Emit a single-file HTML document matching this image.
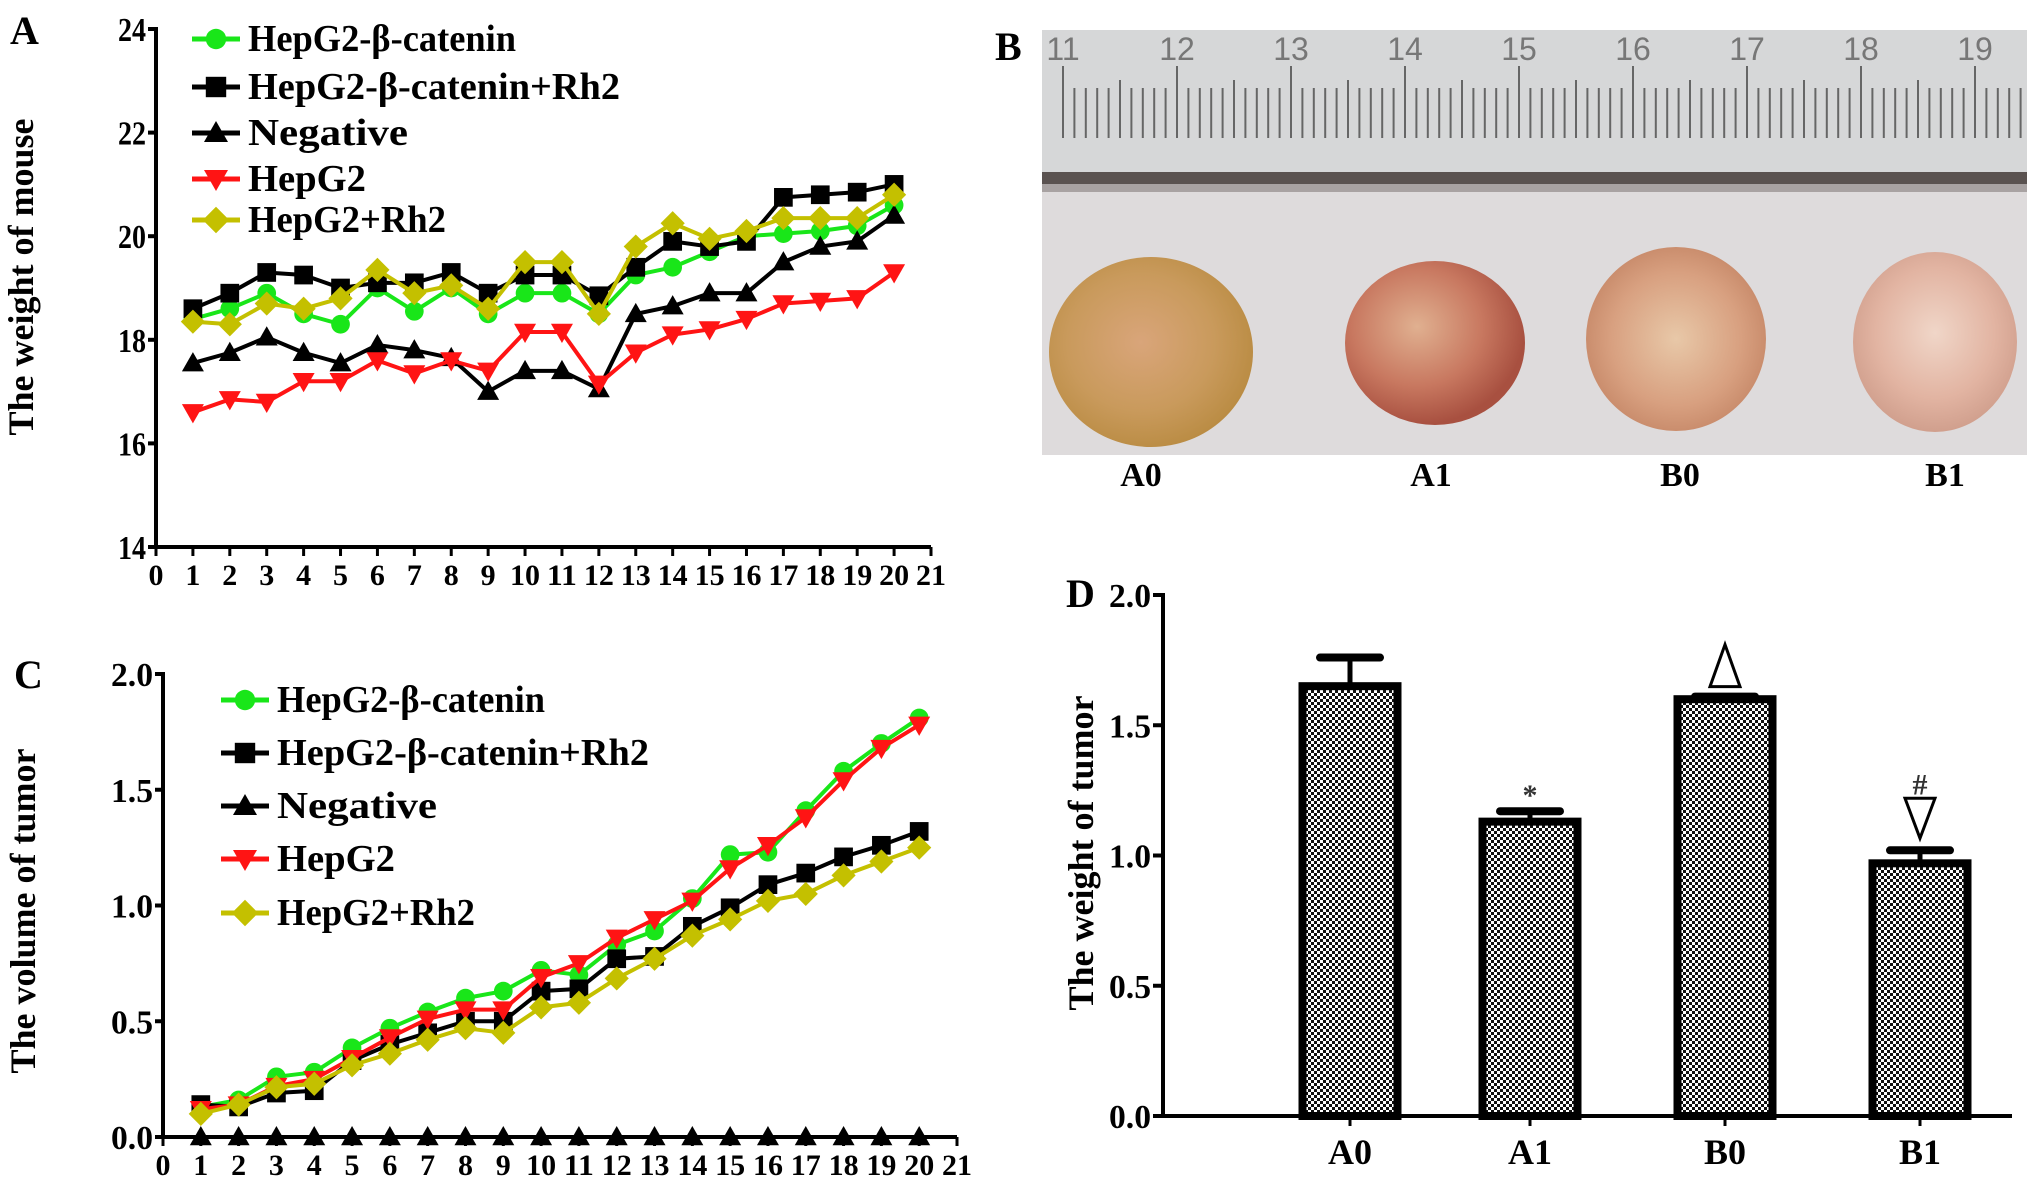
<!DOCTYPE html>
<html><head><meta charset="utf-8"><style>
html,body{margin:0;padding:0;background:#fff;}
svg text{font-family:"Liberation Serif",serif;font-weight:bold;}
</style></head><body>
<svg id="fig" width="2031" height="1187" viewBox="0 0 2031 1187" xmlns="http://www.w3.org/2000/svg">
<defs>
<pattern id="dots" width="6" height="6" patternUnits="userSpaceOnUse">
<rect width="6" height="6" fill="#111"/><rect x="0" y="0" width="3" height="3" fill="#fff"/><rect x="3" y="3" width="3" height="3" fill="#fff"/>
</pattern>
<radialGradient id="gA0" cx="45%" cy="45%" r="60%"><stop offset="0" stop-color="#d9a57a"/><stop offset="0.6" stop-color="#c99a5c"/><stop offset="1" stop-color="#b88a40"/></radialGradient>
<radialGradient id="gA1" cx="40%" cy="40%" r="60%"><stop offset="0" stop-color="#e0b090"/><stop offset="0.6" stop-color="#c87860"/><stop offset="1" stop-color="#a85040"/></radialGradient>
<radialGradient id="gB0" cx="50%" cy="50%" r="60%"><stop offset="0" stop-color="#e8c8a8"/><stop offset="0.6" stop-color="#d8a080"/><stop offset="1" stop-color="#c08060"/></radialGradient>
<radialGradient id="gB1" cx="50%" cy="45%" r="60%"><stop offset="0" stop-color="#f0d6c8"/><stop offset="0.6" stop-color="#e2b4a2"/><stop offset="1" stop-color="#cc9a88"/></radialGradient>
</defs>

<text x="10" y="44" font-size="40">A</text>
<text x="995" y="60" font-size="40">B</text>
<text x="14" y="688" font-size="40">C</text>
<text x="1066" y="607" font-size="40">D</text>

<g>
<rect x="1042" y="30" width="985" height="425" fill="#dedbdc"/>
<rect x="1042" y="30" width="985" height="145" fill="#d6d7d8"/>
<rect x="1042" y="172" width="985" height="12" fill="#5a5250"/>
<rect x="1042" y="184" width="985" height="8" fill="#a8a2a2"/>
<g id="rulerTicks"></g>
<ellipse cx="1151" cy="352" rx="102" ry="95" fill="url(#gA0)"/>
<ellipse cx="1435" cy="343" rx="90" ry="82" fill="url(#gA1)"/>
<ellipse cx="1676" cy="339" rx="90" ry="92" fill="url(#gB0)"/>
<ellipse cx="1935" cy="342" rx="82" ry="90" fill="url(#gB1)"/>
</g>
<g font-size="34" text-anchor="middle">
<text x="1141" y="486">A0</text>
<text x="1431" y="486">A1</text>
<text x="1680" y="486">B0</text>
<text x="1945" y="486">B1</text>
</g>

<g id="chartA"></g>
<g id="chartC"></g>
<g id="chartD"></g>
</svg>
<script>
const daysA = [1,2,3,4,5,6,7,8,9,10,11,12,13,14,15,16,17,18,19,20];
const aCatenin = [18.4,18.6,18.9,18.5,18.3,19.0,18.55,19.0,18.5,18.9,18.9,18.5,19.25,19.4,19.7,20.0,20.05,20.1,20.2,20.6];
const aCateninRh2 = [18.6,18.9,19.3,19.25,19.0,19.1,19.1,19.3,18.9,19.25,19.25,18.85,19.4,19.9,19.8,19.9,20.75,20.8,20.85,21.0];
const aNegative = [17.55,17.75,18.05,17.75,17.55,17.9,17.8,17.65,17.0,17.4,17.4,17.05,18.5,18.65,18.9,18.9,19.5,19.8,19.9,20.4];
const aHepG2 = [16.6,16.85,16.8,17.2,17.2,17.6,17.35,17.6,17.4,18.15,18.15,17.15,17.75,18.1,18.2,18.4,18.7,18.75,18.8,19.3];
const aHepG2Rh2 = [18.35,18.3,18.7,18.6,18.8,19.35,18.9,19.05,18.6,19.5,19.5,18.5,19.8,20.25,19.95,20.1,20.35,20.35,20.35,20.8];
const aYTicks = ["14","16","18","20","22","24"];
const xTickLabels = ["0","1","2","3","4","5","6","7","8","9","10","11","12","13","14","15","16","17","18","19","20","21"];
const cCatenin = [0.13,0.16,0.26,0.28,0.385,0.47,0.54,0.60,0.63,0.72,0.70,0.83,0.89,1.03,1.22,1.23,1.41,1.58,1.70,1.81];
const cCateninRh2 = [0.14,0.13,0.19,0.20,0.33,0.40,0.45,0.50,0.50,0.63,0.64,0.77,0.78,0.91,0.99,1.09,1.14,1.21,1.26,1.32];
const cNegative = [0,0,0,0,0,0,0,0,0,0,0,0,0,0,0,0,0,0,0,0];
const cHepG2 = [0.12,0.14,0.22,0.25,0.34,0.43,0.51,0.55,0.55,0.69,0.75,0.86,0.94,1.02,1.16,1.26,1.38,1.54,1.68,1.78];
const cHepG2Rh2 = [0.10,0.14,0.215,0.23,0.31,0.36,0.42,0.47,0.45,0.56,0.58,0.685,0.77,0.87,0.94,1.02,1.05,1.13,1.19,1.25];
const cYTicks = ["0.0","0.5","1.0","1.5","2.0"];
const dGroups = ["A0","A1","B0","B1"];
const dMeans = [1.65,1.13,1.60,0.97];
const dErrors = [0.11,0.04,0.01,0.05];
const dYTicks = ["0.0","0.5","1.0","1.5","2.0"];
const legendNames = ["HepG2-β-catenin","HepG2-β-catenin+Rh2","Negative","HepG2","HepG2+Rh2"];
const legendWidths = [268,372,160,118,198];

const NS="http://www.w3.org/2000/svg";
function mk(tag, attrs, parent){const e=document.createElementNS(NS,tag);for(const k in attrs)e.setAttribute(k,attrs[k]);parent.appendChild(e);return e;}

(function(){
  const g=document.getElementById('rulerTicks');
  for(let i=0;i<=85;i++){
    const x=1063+i*11.4; if(x>2025)break;
    const big=i%10===0, mid=i%5===0;
    const t=mk('line',{x1:x,x2:x,y1:big?66:(mid?80:88),y2:138,stroke:'#666',"stroke-width":2},g);
    
    
    if(big){const n=mk('text',{x:x,y:60,"font-size":32,"text-anchor":"middle",fill:"#777",style:"font-family:'Liberation Sans',sans-serif;font-weight:normal"},g);n.textContent=String(11+i/10);
      
      }
  }
})();

const styles=[
 {color:'#19e619',marker:'circle',fill:'#19e619'},
 {color:'#000',marker:'square',fill:'#000'},
 {color:'#000',marker:'up',fill:'#000'},
 {color:'#ff1414',marker:'down',fill:'#ff1414'},
 {color:'#c4c000',marker:'diamond',fill:'#c4c000'}
];
function marker(g,type,x,y,fill,s){
  let e;
  if(type==='circle') e=mk('circle',{cx:x,cy:y,r:s*0.85,fill:fill},g);
  else if(type==='square') e=mk('rect',{x:x-s*0.85,y:y-s*0.85,width:s*1.7,height:s*1.7,fill:fill},g);
  else if(type==='up') e=mk('polygon',{points:`${x},${y-s} ${x-s},${y+s*0.75} ${x+s},${y+s*0.75}`,fill:fill},g);
  else if(type==='down') e=mk('polygon',{points:`${x},${y+s} ${x-s},${y-s*0.75} ${x+s},${y-s*0.75}`,fill:fill},g);
  else e=mk('polygon',{points:`${x},${y-s*1.1} ${x+s*1.1},${y} ${x},${y+s*1.1} ${x-s*1.1},${y}`,fill:fill},g);
  return e;
}

function lineChart(g, cfg){
  const xS=v=>cfg.x0+(cfg.x1-cfg.x0)*v/21;
  const yS=v=>cfg.yb+(cfg.yt-cfg.yb)*(v-cfg.ymin)/(cfg.ymax-cfg.ymin);
  const ya=mk('line',{x1:cfg.x0,x2:cfg.x0,y1:cfg.yt-2,y2:cfg.yb+2,stroke:'#000',"stroke-width":4},g);
   
  const xa=mk('line',{x1:cfg.x0-2,x2:cfg.x1,y1:cfg.yb,y2:cfg.yb,stroke:'#000',"stroke-width":4},g);
   
  cfg.yTicks.forEach(lbl=>{
    const y=yS(parseFloat(lbl));
    mk('line',{x1:cfg.x0-8,x2:cfg.x0,y1:y,y2:y,stroke:'#000',"stroke-width":4},g);
    const t=mk('text',{x:cfg.x0-10,y:y+12,"font-size":34,"text-anchor":"end",textLength:lbl.length*14,lengthAdjust:"spacingAndGlyphs"},g); t.textContent=lbl;
     
  });
  xTickLabels.forEach((lbl,i)=>{
    const x=xS(i);
    mk('line',{x1:x,x2:x,y1:cfg.yb,y2:cfg.yb+9,stroke:'#000',"stroke-width":3},g);
    const t=mk('text',{x:x,y:cfg.yb+38,"font-size":30,"text-anchor":"middle"},g); t.textContent=lbl;
    if(lbl.length>1){t.setAttribute('textLength',30);t.setAttribute('lengthAdjust','spacingAndGlyphs');}
     
  });
  const yt=mk('text',{x:0,y:0,"font-size":36,"text-anchor":"middle",transform:`translate(${cfg.titleX},${cfg.titleY}) rotate(-90)`},g);
  yt.textContent=cfg.title;  
  cfg.series.forEach((vals,si)=>{
    const st=styles[si];
    const sg=mk('g',{},g);
    
    
    const pts=vals.map((v,i)=>xS(daysA[i])+','+yS(v)).join(' ');
    mk('polyline',{points:pts,fill:'none',stroke:st.color,"stroke-width":4,"stroke-linejoin":"round"},sg);
    vals.forEach((v,i)=>{const m=marker(sg,st.marker,xS(daysA[i]),yS(v),st.fill,11);
       });
  });
  legendNames.forEach((nm,i)=>{
    const st=styles[i]; const y=cfg.legY[i];
    const lg=mk('g',{},g);
     
    mk('line',{x1:cfg.legX,x2:cfg.legX+48,y1:y,y2:y,stroke:st.color,"stroke-width":5},lg);
    marker(lg,st.marker,cfg.legX+24,y,st.fill,12);
    const t=mk('text',{x:cfg.legX+56,y:y+12,"font-size":38,textLength:legendWidths[i],lengthAdjust:"spacingAndGlyphs"},lg);
    t.textContent=nm;
  });
}

lineChart(document.getElementById('chartA'),{x0:156,x1:931,yt:29,yb:547,ymin:14,ymax:24,yTicks:aYTicks,
  series:[aCatenin,aCateninRh2,aNegative,aHepG2,aHepG2Rh2],title:'The weight of mouse',titleX:33,titleY:277,
  legX:192,legY:[39,87,133,179,220]});
lineChart(document.getElementById('chartC'),{x0:163,x1:957,yt:674,yb:1137,ymin:0,ymax:2,yTicks:cYTicks,
  series:[cCatenin,cCateninRh2,cNegative,cHepG2,cHepG2Rh2],title:'The volume of tumor',titleX:35,titleY:911,
  legX:221,legY:[700,753,806,859,913]});

(function(){
  const g=document.getElementById('chartD');
  const x0=1163,yb=1116,yt=595,xEnd=2012;
  const yS=v=>yb+(yt-yb)*v/2;
  const xC=i=>1350+i*190-(i===1?10:0)-(i===2?5:0);
  const bw=95;
  const ya=mk('line',{x1:x0,x2:x0,y1:yt-2,y2:yb+2,stroke:'#000',"stroke-width":4},g);
   
  const xa=mk('line',{x1:x0-2,x2:xEnd,y1:yb,y2:yb,stroke:'#000',"stroke-width":4},g);
   
  dYTicks.forEach(l=>{const y=yS(parseFloat(l));
    mk('line',{x1:x0-10,x2:x0,y1:y,y2:y,stroke:'#000',"stroke-width":4},g);
    const t=mk('text',{x:x0-12,y:y+12,"font-size":34,"text-anchor":"end",textLength:42,lengthAdjust:"spacingAndGlyphs"},g);t.textContent=l;
     });
  dGroups.forEach((nm,i)=>{
    const x=xC(i), top=yS(dMeans[i]), et=yS(dMeans[i]+dErrors[i]);
    mk('line',{x1:x,x2:x,y1:top,y2:et,stroke:'#000',"stroke-width":5},g);
    mk('line',{x1:x-30,x2:x+30,y1:et,y2:et,stroke:'#000',"stroke-width":8,"stroke-linecap":"round"},g);
    const b=mk('rect',{x:x-bw/2,y:top,width:bw,height:yb-top,fill:'url(#dots)',stroke:'#000',"stroke-width":8},g);
     
    mk('line',{x1:x,x2:x,y1:yb,y2:yb+10,stroke:'#000',"stroke-width":3},g);
    const t=mk('text',{x:x,y:1164,"font-size":36,"text-anchor":"middle"},g);t.textContent=nm;
     
  });
  const a1=mk('text',{x:xC(1),y:yS(dMeans[1]+dErrors[1])-6,"font-size":30,"text-anchor":"middle",fill:"#333"},g);a1.textContent='*';
   
  const tB0=yS(dMeans[2]+dErrors[2])-10;
  const tr=mk('polygon',{points:`${xC(2)},${tB0-42} ${xC(2)-15},${tB0} ${xC(2)+15},${tB0}`,fill:'#fff',stroke:'#000',"stroke-width":3},g);
   
  const tB1=yS(dMeans[3]+dErrors[3])-12;
  const tr2=mk('polygon',{points:`${xC(3)},${tB1} ${xC(3)-15},${tB1-40} ${xC(3)+15},${tB1-40}`,fill:'#fff',stroke:'#000',"stroke-width":3},g);
   
  const h=mk('text',{x:xC(3),y:tB1-44,"font-size":30,"text-anchor":"middle",fill:"#333"},g);h.textContent='#';
   
  const yt2=mk('text',{x:0,y:0,"font-size":36,"text-anchor":"middle",transform:'translate(1093,853) rotate(-90)'},g);
  yt2.textContent='The weight of tumor';
   
})();
</script>
</body></html>
